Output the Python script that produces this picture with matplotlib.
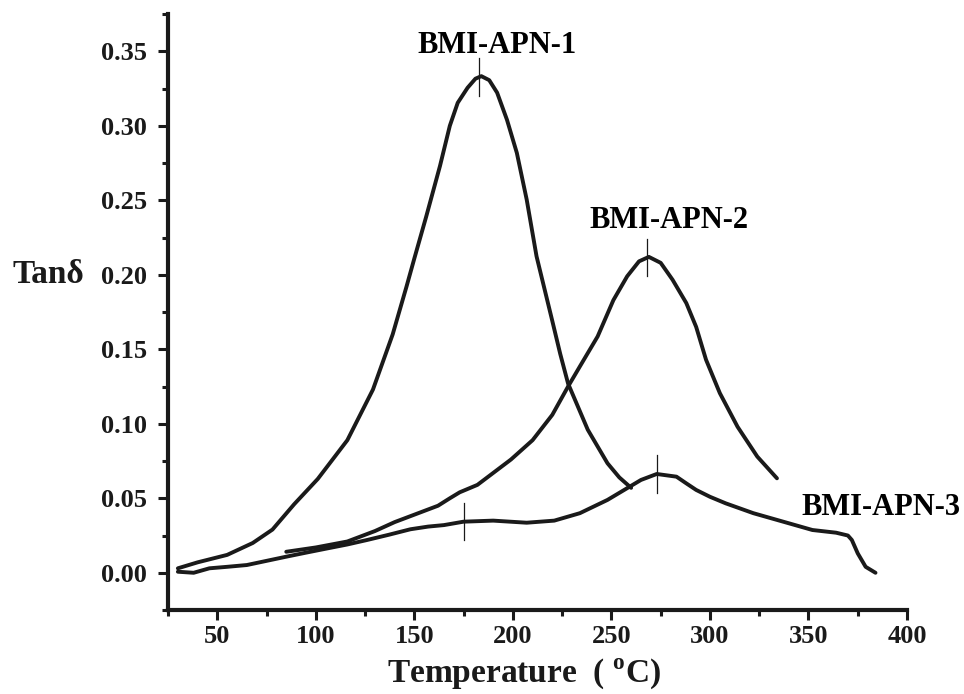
import matplotlib
matplotlib.use('Agg')
import matplotlib.pyplot as plt
from matplotlib.ticker import MultipleLocator, FormatStrFormatter
import numpy as np

plt.rcParams['font.family'] = ['Liberation Serif', 'DejaVu Serif']
plt.rcParams['font.weight'] = 'bold'
plt.rcParams['mathtext.fontset'] = 'custom'
plt.rcParams['mathtext.rm'] = 'Liberation Serif:bold'
plt.rcParams['mathtext.bf'] = 'Liberation Serif:bold'

# ---- tan(delta) vs temperature, three resin formulations ----
temp_1 = [30, 40, 55, 68, 78, 89, 101, 116, 129, 139, 146, 150, 156, 163, 168,
          172, 177, 181, 184, 188, 192, 197, 202, 207, 212, 220, 224, 228, 238,
          248, 254, 260]
tan_1 = [0.003, 0.007, 0.012, 0.020, 0.029, 0.046, 0.063, 0.089, 0.123, 0.160,
         0.192, 0.211, 0.239, 0.273, 0.300, 0.3154, 0.3255, 0.3316, 0.3333,
         0.3306, 0.3222, 0.304, 0.2818, 0.2505, 0.2124, 0.169, 0.147, 0.127,
         0.096, 0.0735, 0.064, 0.057]

temp_2 = [85, 100, 116, 130, 140, 150, 156, 162, 168, 173, 182, 190, 199, 210,
          220, 228, 234, 243, 251, 258, 264, 269, 275, 281, 288, 293, 298, 305,
          314, 324, 334]
tan_2 = [0.0141, 0.017, 0.021, 0.028, 0.034, 0.039, 0.042, 0.045, 0.050, 0.054,
         0.059, 0.067, 0.076, 0.089, 0.106, 0.125, 0.1385, 0.1586, 0.183, 0.199,
         0.209, 0.212, 0.208, 0.1967, 0.181, 0.165, 0.143, 0.1206, 0.098, 0.078,
         0.0634]

temp_3 = [30, 38, 46, 55, 65, 75, 85, 95, 106, 116, 126, 137, 148, 157, 165, 175,
          190, 207, 221, 234, 248, 257, 265, 273, 283, 288, 293, 300, 308, 322,
          339, 352, 364, 370, 372, 375, 379, 384]
tan_3 = [0.0007, 0.0, 0.003, 0.004, 0.0052, 0.008, 0.0108, 0.0135, 0.0164, 0.019,
         0.022, 0.0255, 0.0292, 0.031, 0.032, 0.0343, 0.035, 0.0336, 0.035, 0.040,
         0.0489, 0.056, 0.0623, 0.0663, 0.0645, 0.060, 0.0556, 0.051, 0.0466,
         0.040, 0.0336, 0.0287, 0.0269, 0.025, 0.022, 0.013, 0.004, 0.0]

# transition temperatures marked on each curve
marks_1 = [183]
marks_2 = [268]
marks_3 = [175, 273]

names = ['BMI-APN-1', 'BMI-APN-2', 'BMI-APN-3']

fig = plt.figure(figsize=(9.64, 6.94), dpi=100)
ax = fig.add_axes([0.1743, 0.121, 0.9409 - 0.1743, 0.9798 - 0.121])

curves = [(temp_1, tan_1, marks_1), (temp_2, tan_2, marks_2), (temp_3, tan_3, marks_3)]
for t, y, marks in curves:
    ax.plot(t, y, color='#1a1a1a', lw=2.8, solid_capstyle='round',
            solid_joinstyle='round')
    for m in marks:
        yc = np.interp(m, t, y)
        ax.plot([m, m], [yc - 0.0125, yc + 0.0125], color='#1a1a1a', lw=0.9)

# curve labels
ax.text(192, 0.349, names[0], fontsize=22, ha='center', va='baseline')
ax.text(279, 0.2314, names[1], fontsize=22, ha='center', va='baseline')
ax.text(386.7, 0.0388, names[2], fontsize=22, ha='center', va='baseline',
        clip_on=False)

ax.set_xlim(25, 400)
ax.set_ylim(-0.025, 0.375)
ax.xaxis.set_major_locator(MultipleLocator(50))
ax.xaxis.set_minor_locator(MultipleLocator(25))
ax.yaxis.set_major_locator(MultipleLocator(0.05))
ax.yaxis.set_minor_locator(MultipleLocator(0.025))
ax.yaxis.set_major_formatter(FormatStrFormatter('%.2f'))

for s in ['top', 'right']:
    ax.spines[s].set_visible(False)
for s in ['left', 'bottom']:
    ax.spines[s].set_linewidth(3.0)
    ax.spines[s].set_color('#1a1a1a')

ax.tick_params(which='major', direction='out', length=7, width=2.2,
               labelsize=19, color='#1a1a1a', labelcolor='#1a1a1a')
ax.tick_params(which='minor', direction='out', length=4, width=2.2,
               color='#1a1a1a')
ax.tick_params(axis='x', which='major', pad=4)
ax.tick_params(axis='y', which='major', pad=8)
for lab in ax.get_xticklabels() + ax.get_yticklabels():
    lab.set_fontweight('bold')

fig.text(0.0132, 0.592, 'Tanδ', fontsize=24, ha='left', va='baseline',
         color='#1a1a1a')
fig.text(524 / 964, 1 - 682 / 694, r'Temperature  ( $^{\mathrm{o}}$C)',
         fontsize=24, ha='center', va='baseline', color='#1a1a1a')

fig.savefig('out.png', dpi=100, facecolor='white')
